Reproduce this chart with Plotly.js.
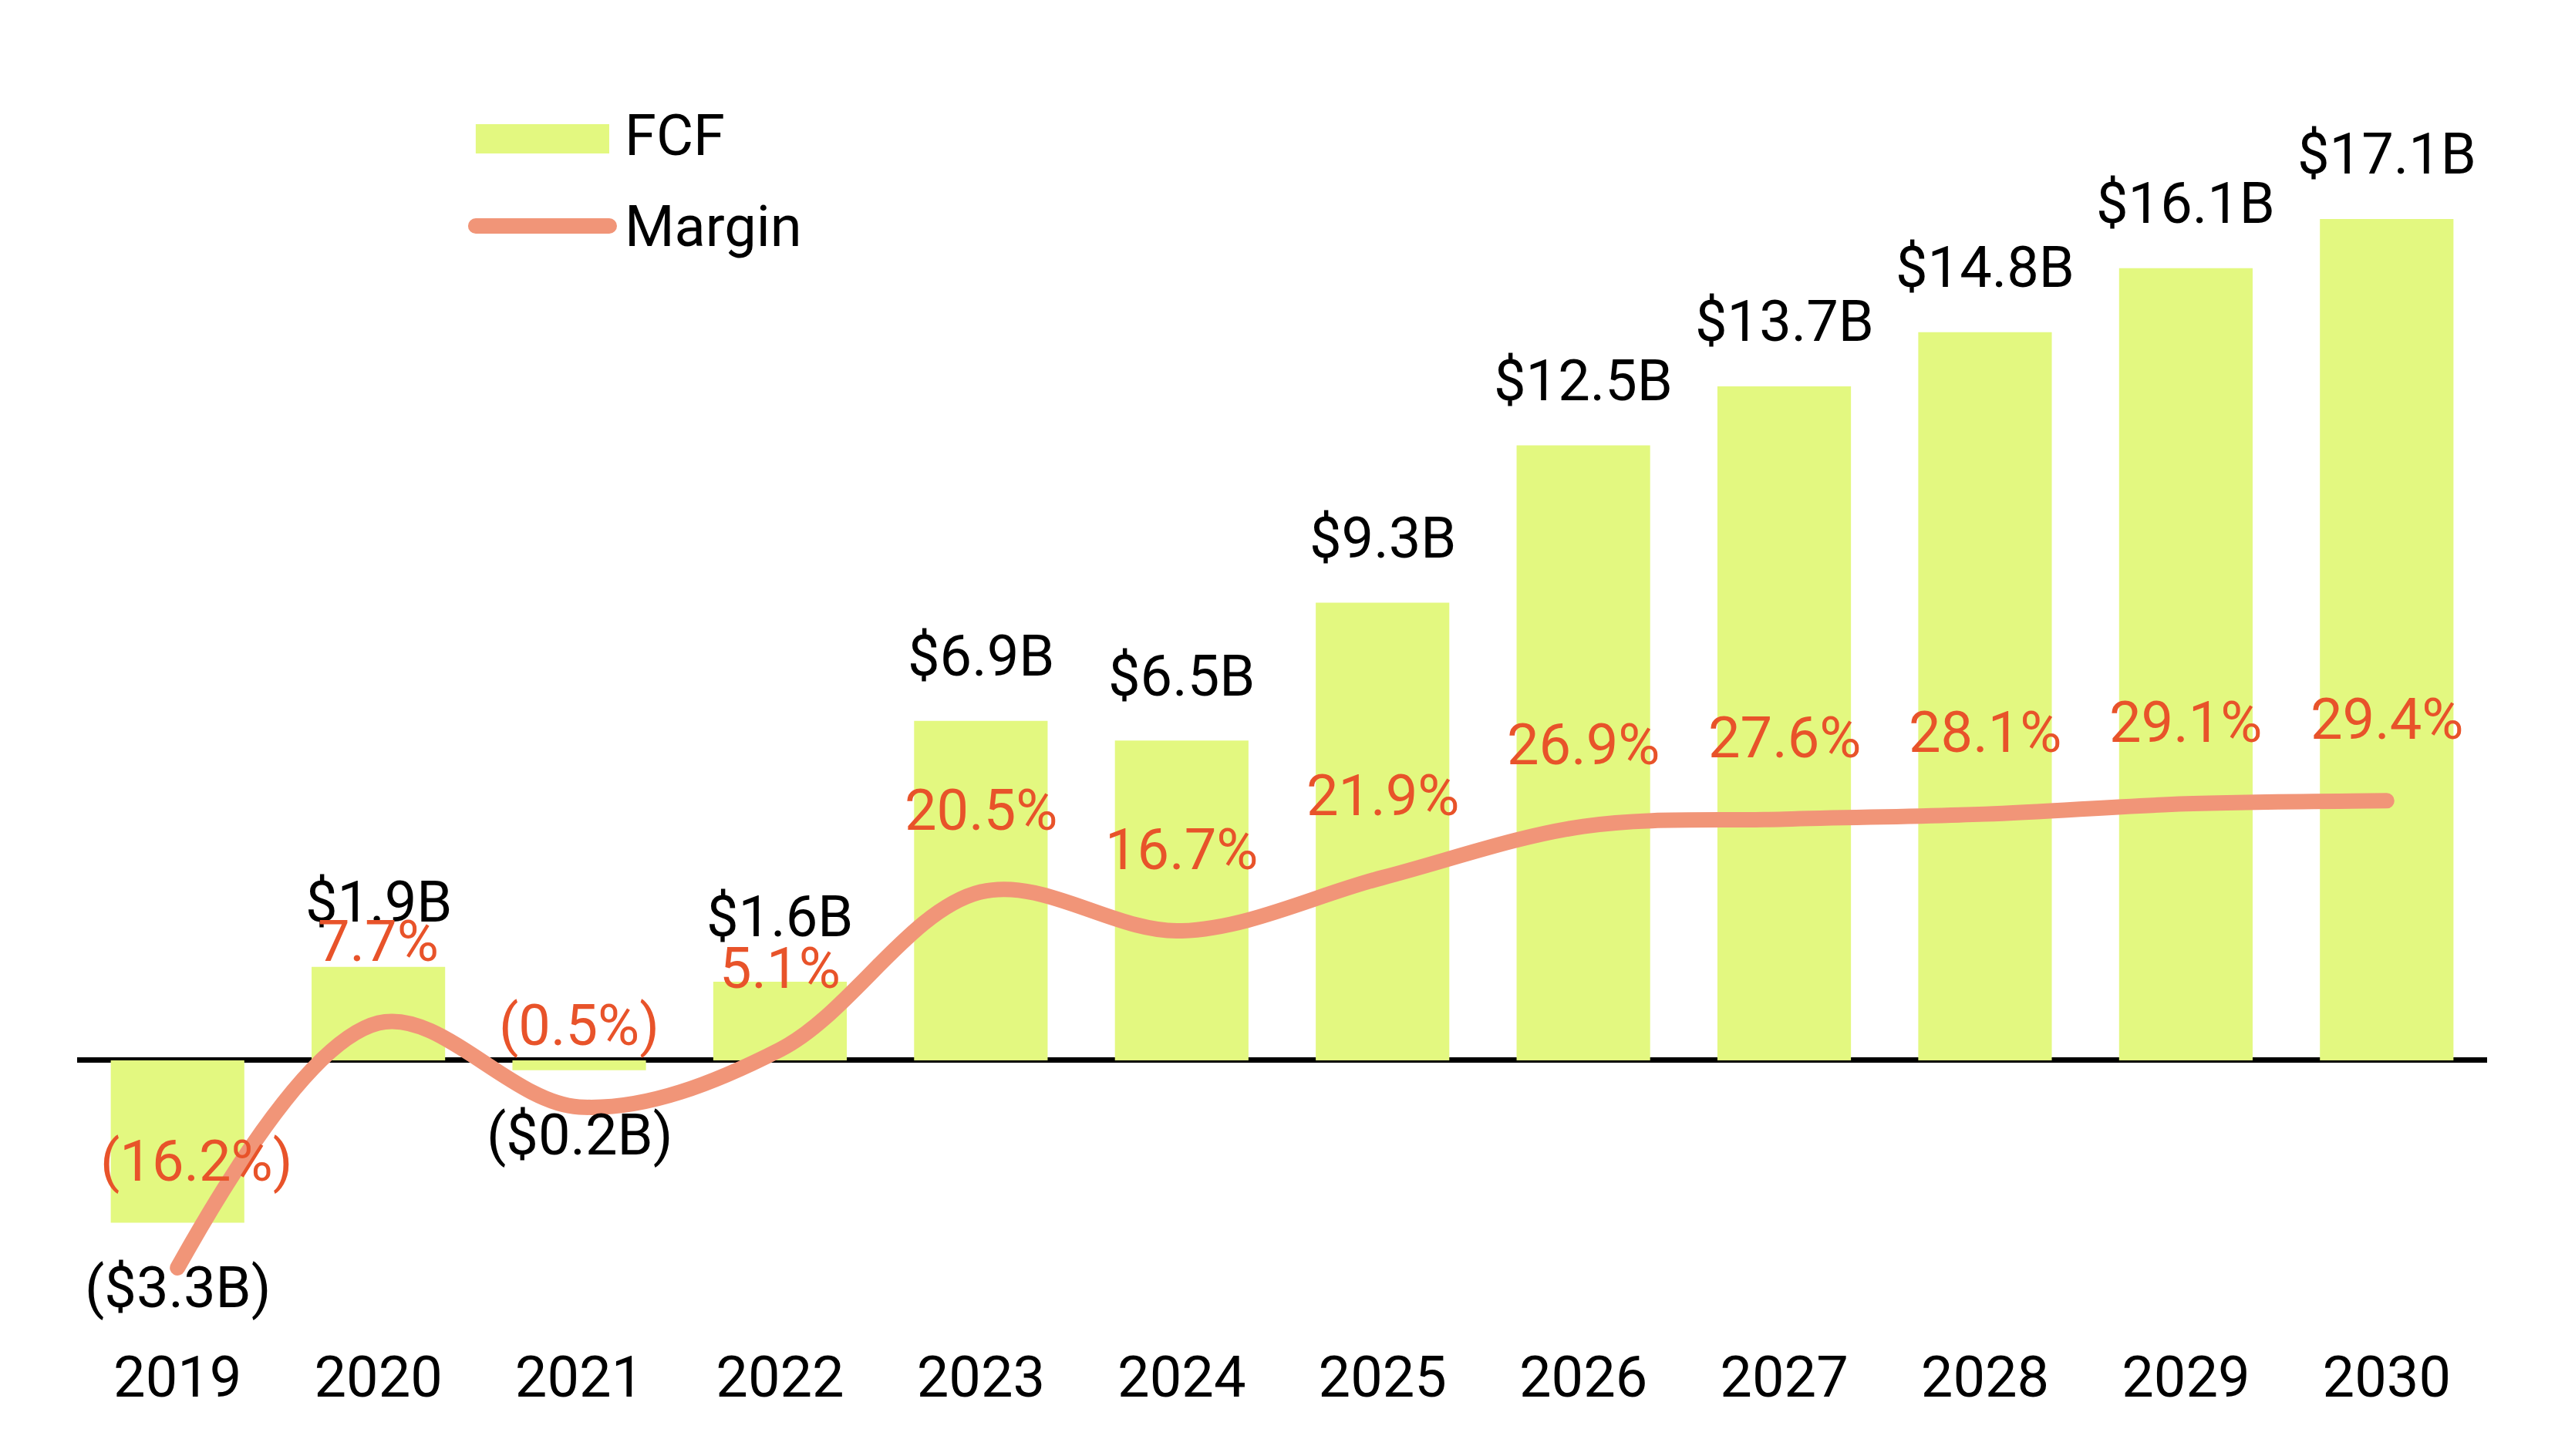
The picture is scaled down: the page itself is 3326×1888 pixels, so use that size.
<!DOCTYPE html>
<html>
<head>
<meta charset="utf-8">
<script src="https://cdn.plot.ly/plotly-3.0.1.min.js"></script>
<style>
  html, body { margin: 0; padding: 0; background: #ffffff; }
  #chart { width: 3326px; height: 1888px; }
  .js-line { stroke-linecap: round; stroke-linejoin: round; }
  .shapelayer path { stroke-linecap: round; }
</style>
</head>
<body>
<div id="chart"></div>
<script>
// ---- data ----
const years = ['2019', '2020', '2021', '2022', '2023', '2024', '2025', '2026', '2027', '2028', '2029', '2030'];
const fcf = [-3.3, 1.9, -0.2, 1.6, 6.9, 6.5, 9.3, 12.5, 13.7, 14.8, 16.1, 17.1];      // $B
const margin = [-16.2, 7.7, -0.5, 5.1, 20.5, 16.7, 21.9, 26.9, 27.6, 28.1, 29.1, 29.4]; // %
const seriesNames = ['FCF', 'Margin'];

// ---- style ----
const BAR_COLOR = '#E3F880';
const LINE_COLOR = '#F19578';
const PCT_COLOR = '#E8532A';
const FONT = 'Roboto, "Noto Sans", Arial, sans-serif';
const FS = 74;

function fmtB(v) { return v < 0 ? '($' + Math.abs(v).toFixed(1) + 'B)' : '$' + v.toFixed(1) + 'B'; }
function fmtP(v) { return v < 0 ? '(' + Math.abs(v).toFixed(1) + '%)' : v.toFixed(1) + '%'; }

const traces = [
  {
    type: 'bar', name: seriesNames[0], x: years, y: fcf,
    marker: { color: BAR_COLOR, line: { width: 0 } },
    showlegend: false, hoverinfo: 'x+y'
  },
  {
    type: 'scatter', mode: 'lines', name: seriesNames[1], x: years, y: margin, yaxis: 'y2',
    line: { color: LINE_COLOR, width: 20, shape: 'spline', smoothing: 1 },
    showlegend: false, hoverinfo: 'x+y'
  }
];

const annotations = [];
years.forEach((yr, i) => {
  annotations.push({
    x: i, y: fcf[i], xref: 'x', yref: 'y', text: fmtB(fcf[i]), showarrow: false,
    xanchor: 'center', yanchor: 'middle', yshift: fcf[i] >= 0 ? 84 : -84,
    font: { family: FONT, size: FS, color: '#000000' }
  });
  // the deep-negative margin label is nudged so it clears the bar label below it
  const deep = margin[i] < -10;
  annotations.push({
    x: i, y: margin[i], xref: 'x', yref: 'y2', text: fmtP(margin[i]), showarrow: false,
    xanchor: 'center', yanchor: 'middle', yshift: deep ? 138 : 106, xshift: deep ? 25 : 0,
    font: { family: FONT, size: FS, color: PCT_COLOR }
  });
});

// legend (drawn manually to match large swatches)
annotations.push({
  xref: 'paper', yref: 'paper', x: 0.2265, y: 0.9293, xanchor: 'left', yanchor: 'middle',
  text: seriesNames[0], showarrow: false, font: { family: FONT, size: FS, color: '#000000' }
});
annotations.push({
  xref: 'paper', yref: 'paper', x: 0.2265, y: 0.8579, xanchor: 'left', yanchor: 'middle',
  text: seriesNames[1], showarrow: false, font: { family: FONT, size: FS, color: '#000000' }
});

const shapes = [
  { type: 'rect', xref: 'paper', yref: 'paper', x0: 0.1654, x1: 0.2208, y0: 0.9152, y1: 0.9384,
    fillcolor: BAR_COLOR, line: { width: 0 } },
  { type: 'line', xref: 'paper', yref: 'paper', x0: 0.1654, x1: 0.2208, y0: 0.8579, y1: 0.8579,
    line: { color: LINE_COLOR, width: 20 } }
];

const layout = {
  width: 3326, height: 1888,
  margin: { l: 100, r: 101, t: 60, b: 188, pad: 0 },
  paper_bgcolor: '#ffffff', plot_bgcolor: '#ffffff',
  font: { family: FONT, size: FS, color: '#000000' },
  bargap: 0.335,
  showlegend: false,
  xaxis: {
    type: 'category', range: [-0.5, years.length - 0.5], autorange: false,
    showgrid: false, zeroline: false, showline: false, ticks: '',
    ticklabelstandoff: 36,
    tickfont: { family: FONT, size: FS, color: '#000000' }
  },
  yaxis: {
    range: [-5.094, 20.61], autorange: false, showgrid: false, showticklabels: false, ticks: '',
    zeroline: true, zerolinecolor: '#000000', zerolinewidth: 7, showline: false
  },
  yaxis2: {
    range: [-20.42, 103.07], autorange: false, overlaying: 'y', side: 'right', showgrid: false,
    showticklabels: false, ticks: '', zeroline: false, showline: false
  },
  annotations: annotations,
  shapes: shapes
};

Plotly.newPlot('chart', traces, layout, { displayModeBar: false, staticPlot: true });
</script>
</body>
</html>
